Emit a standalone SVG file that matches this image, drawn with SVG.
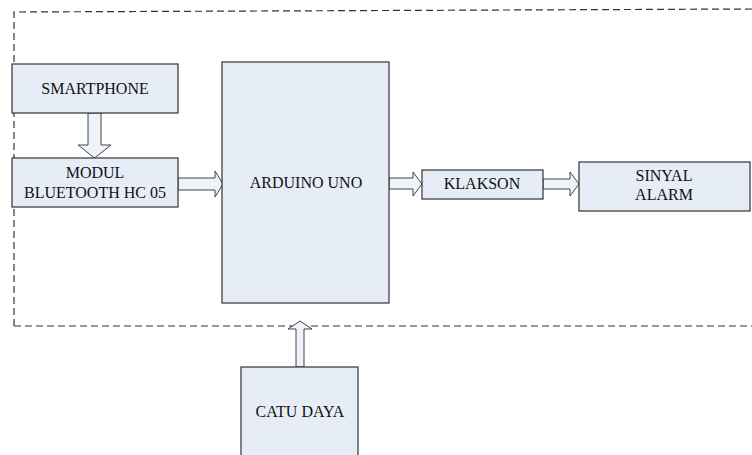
<svg xmlns="http://www.w3.org/2000/svg" width="752" height="455" viewBox="0 0 752 455">
<style>
.box{fill:#E7EDF7;stroke:#333;stroke-width:1.2}
.arr{fill:#EEF2F9;stroke:#444;stroke-width:1}
.dash{fill:none;stroke:#333;stroke-width:1.2;stroke-dasharray:7 4}
.t{font-family:'Liberation Serif','Times New Roman',serif;font-size:16px;fill:#111;text-anchor:middle}
</style>
<rect width="752" height="455" fill="#fff"/>
<g id="boundary">
<path class="dash" d="M14 326 L14 12 L752 9"/>
<path class="dash" d="M14 326 L752 326"/>
</g>
<g id="connectors">
<path class="arr" d="M88 113 L101 113 L101 145 L111 145 L94.5 158 L78 145 L88 145 Z"/>
<path class="arr" d="M178 178 L215 178 L215 171 L223 184 L215 197 L215 190 L178 190 Z"/>
<path class="arr" d="M389 178 L413 178 L413 172 L422 184 L413 196 L413 189 L389 189 Z"/>
<path class="arr" d="M543 179 L570 179 L570 172 L579 184 L570 196 L570 189 L543 189 Z"/>
<path class="arr" d="M296 367 L296 329 L288 329 L300 321 L312 329 L304 329 L304 367 Z"/>
</g>
<g id="smartphone">
<rect class="box" x="12" y="64" width="166" height="49"/>
<text class="t" x="95" y="94">SMARTPHONE</text>
</g>
<g id="modul">
<rect class="box" x="12" y="158" width="166" height="49"/>
<text class="t" x="95" y="178">MODUL</text>
<text class="t" x="95" y="198">BLUETOOTH HC 05</text>
</g>
<g id="arduino">
<rect class="box" x="222" y="62" width="167" height="241"/>
<text class="t" x="306" y="188">ARDUINO UNO</text>
</g>
<g id="klakson">
<rect class="box" x="422" y="170" width="121" height="29"/>
<text class="t" x="482" y="189">KLAKSON</text>
</g>
<g id="sinyal">
<rect class="box" x="579" y="162" width="171" height="49"/>
<text class="t" x="664" y="181">SINYAL</text>
<text class="t" x="664" y="200">ALARM</text>
</g>
<g id="catu">
<rect class="box" x="241" y="367" width="117" height="95"/>
<text class="t" x="300" y="417">CATU DAYA</text>
</g>
</svg>
